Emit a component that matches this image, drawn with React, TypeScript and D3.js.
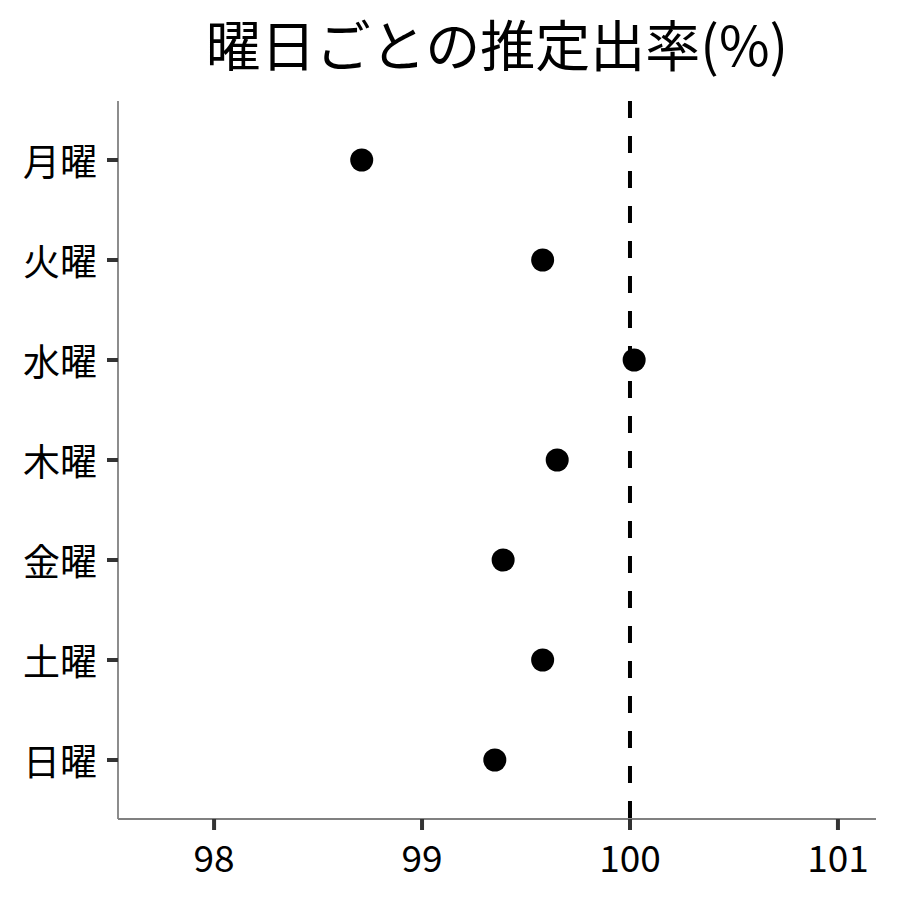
import React from 'react';
import * as d3 from 'd3';

const days = ['月曜', '火曜', '水曜', '木曜', '金曜', '土曜', '日曜'];
const rates = [98.71, 99.58, 100.02, 99.65, 99.39, 99.58, 99.35];
const xTicks = [98, 99, 100, 101];
const refValue = 100;

const FONT = '"Noto Sans CJK JP", "Noto Sans", sans-serif';

const App: React.FC = () => {
    const width = 900;
    const height = 900;
    const margin = { top: 101, right: 24, bottom: 81, left: 118 };

    const x = d3.scaleLinear()
        .domain([97.538, 101.183])
        .range([margin.left, width - margin.right]);

    // discrete axis with ggplot-like 0.6 expansion
    const y = d3.scalePoint<string>()
        .domain(days)
        .range([margin.top + 59, height - margin.bottom - 59]);

    const plotBottom = height - margin.bottom;

    return (
        <svg width={width} height={height} style={{ display: 'block', margin: -8, fontFamily: FONT }}>
            <rect width={width} height={height} fill="#fff" />
            <text
                x={(margin.left + width - margin.right) / 2}
                y={42}
                textAnchor="middle"
                dominantBaseline="central"
                fontSize={55}
                fill="#000"
            >
                曜日ごとの推定出率(%)
            </text>

            {/* reference line */}
            <line
                x1={x(refValue)} x2={x(refValue)}
                y1={margin.top} y2={plotBottom}
                stroke="#000" strokeWidth={4} strokeDasharray="17,18"
            />

            {/* axes */}
            <line x1={margin.left} x2={margin.left} y1={margin.top} y2={plotBottom} stroke="#808080" strokeWidth={1.8} />
            <line x1={margin.left} x2={width - margin.right} y1={plotBottom} y2={plotBottom} stroke="#808080" strokeWidth={1.8} />

            {days.map(d => (
                <g key={d}>
                    <line x1={margin.left - 11} x2={margin.left} y1={y(d)} y2={y(d)} stroke="#333" strokeWidth={4} />
                    <text
                        x={margin.left - 21}
                        y={y(d)}
                        textAnchor="end"
                        dominantBaseline="central"
                        fontSize={37}
                        fill="#000"
                    >
                        {d}
                    </text>
                </g>
            ))}

            {xTicks.map(t => (
                <g key={t}>
                    <line x1={x(t)} x2={x(t)} y1={plotBottom} y2={plotBottom + 11} stroke="#333" strokeWidth={4} />
                    <text
                        x={x(t)}
                        y={856}
                        textAnchor="middle"
                        dominantBaseline="central"
                        fontSize={37}
                        fill="#000"
                    >
                        {t}
                    </text>
                </g>
            ))}

            {days.map((d, i) => (
                <circle key={d} cx={x(rates[i])} cy={y(d)} r={11.5} fill="#000" />
            ))}
        </svg>
    );
};

export default App;
